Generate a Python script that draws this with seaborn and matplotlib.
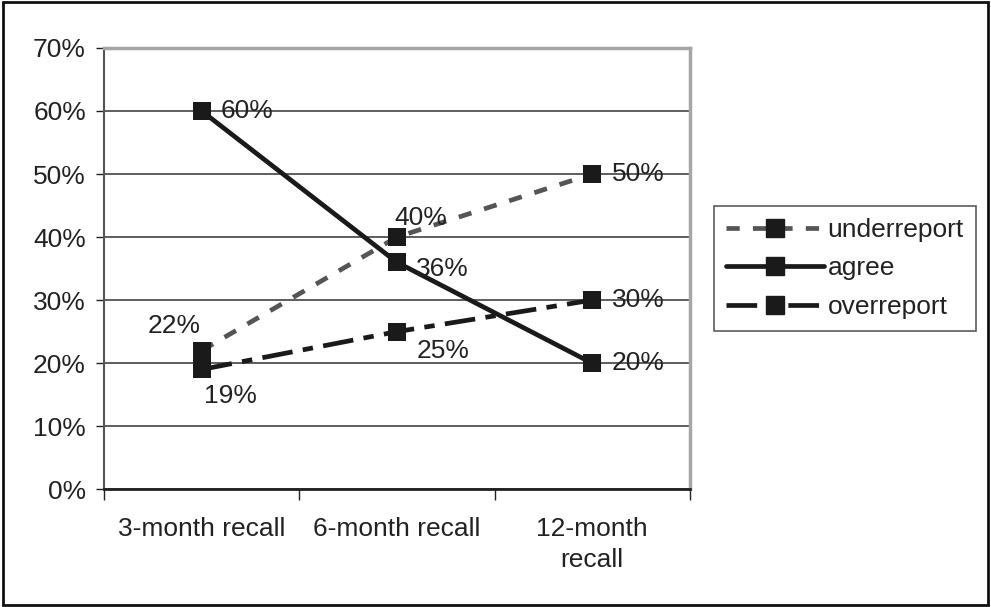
import matplotlib
matplotlib.use("Agg")
import matplotlib.pyplot as plt
import seaborn as sns
import pandas as pd
from matplotlib.patches import Rectangle
from matplotlib.lines import Line2D
from matplotlib.ticker import FixedLocator, PercentFormatter

# Recall periods and share of respondents per reporting outcome (%)
periods = ["3-month recall", "6-month recall", "12-month\nrecall"]
underreport = [22, 40, 50]
agree = [60, 36, 20]
overreport = [19, 25, 30]
series_names = ["underreport", "agree", "overreport"]

sns.set_theme(style="white")
plt.rcParams["font.family"] = ["Liberation Sans", "DejaVu Sans"]

FS = 19
LW = 3.4
MS = 13.5
UNDER_DASH = (2.8, 2.8)
OVER_DASH = (6.5, 2.2, 2.2, 2.2)

df = pd.DataFrame({
    "period": periods * 3,
    "pos": [0, 1, 2] * 3,
    "value": underreport + agree + overreport,
    "series": [s for s in series_names for _ in periods],
})

fig = plt.figure(figsize=(9.91, 6.07), dpi=100)
ax = fig.add_axes([0.105, 0.194, 0.591, 0.727])

palette = {"underreport": "#555555", "agree": "#1a1a1a", "overreport": "#1a1a1a"}
dashes = {"underreport": UNDER_DASH, "agree": "", "overreport": OVER_DASH}
sns.lineplot(data=df, x="pos", y="value", hue="series", style="series",
             palette=palette, dashes=dashes, markers={s: "s" for s in series_names},
             markersize=MS, linewidth=LW, markeredgewidth=0,
             ax=ax, legend=False, hue_order=series_names, style_order=series_names)
for ln in ax.get_lines():
    ln.set_markerfacecolor("#1a1a1a")
    ln.set_markeredgecolor("#1a1a1a")

ax.set_xlim(-0.5, 2.5)
ax.set_ylim(0, 70)
ax.set_yticks(range(0, 71, 10))
ax.yaxis.set_major_formatter(PercentFormatter(decimals=0))
ax.grid(axis="y", color="#333333", linewidth=1.1)
ax.set_axisbelow(True)

ax.set_xticks([0, 1, 2])
ax.set_xticklabels(periods, linespacing=1.35)
ax.xaxis.set_minor_locator(FixedLocator([-0.5, 0.5, 1.5, 2.5]))
ax.tick_params(axis="x", which="major", length=0, pad=20, labelsize=FS, labelcolor="#222222")
ax.tick_params(axis="x", which="minor", length=8, width=1, color="#222222", bottom=True)
ax.tick_params(axis="y", length=6, width=1, color="#222222", left=True, pad=7,
               labelsize=FS, labelcolor="#222222")
ax.set_xlabel("")
ax.set_ylabel("")

for side in ["top", "right"]:
    ax.spines[side].set_color("#a6a6a6")
    ax.spines[side].set_linewidth(2.5)
ax.spines["left"].set_color("#555555")
ax.spines["left"].set_linewidth(1.5)
ax.spines["bottom"].set_color("#222222")
ax.spines["bottom"].set_linewidth(2)

# value labels
label_offsets = {
    ("underreport", 0): (-20, 18, "center"),
    ("underreport", 1): (-2, 14, "left"),
    ("underreport", 2): (14, 0, "left"),
    ("agree", 0): (14, 0, "left"),
    ("agree", 1): (14, -5, "left"),
    ("agree", 2): (14, 0, "left"),
    ("overreport", 0): (2, -19, "left"),
    ("overreport", 1): (14, -14, "left"),
    ("overreport", 2): (14, 0, "left"),
}
for name, vals in zip(series_names, [underreport, agree, overreport]):
    for i, v in enumerate(vals):
        dx, dy, ha = label_offsets[(name, i)]
        ax.annotate(f"{v}%", (i, v), xytext=(dx, dy), textcoords="offset points",
                    ha=ha, va="center", fontsize=FS, color="#222222")

# legend
def handle(color, dash):
    kw = dict(color=color, linewidth=LW, marker="s", markersize=MS,
              markerfacecolor="#1a1a1a", markeredgecolor="#1a1a1a")
    if dash:
        kw["dashes"] = dash
    return Line2D([], [], **kw)

handles = [handle("#555555", UNDER_DASH), handle("#1a1a1a", None),
           handle("#1a1a1a", OVER_DASH)]
leg = fig.legend(handles, series_names, loc="upper left",
                 bbox_to_anchor=(714 / 991, 1 - 206 / 607), fontsize=FS,
                 frameon=True, fancybox=False, handlelength=3.7, handletextpad=0.15,
                 labelspacing=0.55, borderpad=0.45, borderaxespad=0)
leg.get_frame().set_edgecolor("#333333")
leg.get_frame().set_linewidth(1.2)
for t in leg.get_texts():
    t.set_color("#222222")

# outer frame
fig.patches.append(Rectangle((0.003, 0.003), 0.994, 0.994, transform=fig.transFigure,
                             fill=False, edgecolor="#111111", linewidth=2))

fig.savefig("out.png", dpi=100)
